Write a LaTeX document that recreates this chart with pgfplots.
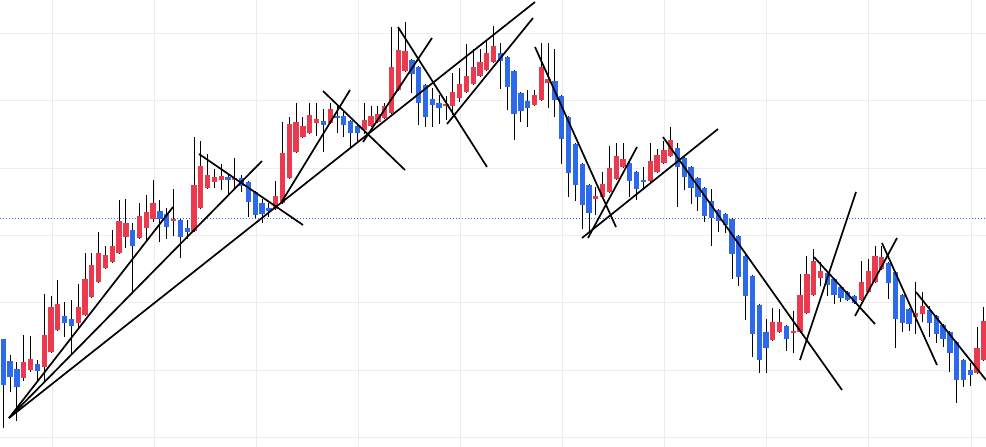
\documentclass[border=0pt]{standalone}
\usepackage{pgfplots}
\usepackage{pgfplotstable}
\pgfplotsset{compat=1.18}
\definecolor{cup}{RGB}{235,58,78}
\definecolor{cdn}{RGB}{45,106,235}
\definecolor{gridc}{RGB}{236,236,236}

\pgfplotstableread{
i bt bb h l
3 362 378 335 381
4 359 370 336 372
6 335 367 294 383
7 307 352 296 353
8 304 330 280 331
11 307 323 284 328
12 279 315 253 316
13 265 297 253 298
14 253 282 232 283
15 255 268 246 269
16 246 262 230 263
17 221 253 200 254
18 223 237 199 248
20 216 238 203 239
21 212 228 195 242
22 203 219 180 222
25 218.5 220.5 189 236
28 185 231 137 232
29 166 208 141 209
30 175 188 154 189
31 177 182 169 188
32 176 180 164 190
34 177.5 179.5 158 188
40 196 209 181 210
41 153 203 122 204
42 124 178 117 179
43 122 152 103 153
44 126 137 117 138
45 115 133 103 134
46 119 123 103 136
48 109 123 103 124
53 120 130 103 134
54 116 126 106 127
55 114 122 106 123
56 106 118 103 119
57 67 113 27 114
58 50 90 27 91
59 51 71 22 72
65 104 106 96 120
66 92 106 73 115
67 84 98 68 102
68 76 92 44 93
69 67 84 49 85
70 62 76 49 77
71 53 70 40 71
72 46 62 26 63
78 95 105 90 106
79 67 100 43 101
80 79 83 43 108
87 196 199 187 215
88 184 197 172 198
89 168 192 146 193
90 156 179 143 180
91 159 167 143 168
95 161 181 143 182
96 155 172 149 173
97 150 163 141 164
98 140 156 127 157
113 322 340 308 341
114 322 332 309 333
116 331 333 311 353
117 295 332 274 333
118 274 313 256 314
119 261 295 249 296
120 271 278 262 286
126 282 300 261 301
127 271 292 259 293
128 256 282 246 283
129 257 269 246 270
134 313 317 282 334
135 306 314 292 322
143 348 373 327 374
144 321 360 307 361
}\up

\pgfplotstableread{
i bt bb h l
0 339 385 339 428
1 361 377 355 392
2 369 387 362 421
5 364 371 360 382
9 316 323 302 337
10 319 326 300 354
19 230 246 223 292
23 211 219 200 242
24 214 227 208 239
26 220 237 219 258
27 228 232 220 239
33 177 180 175 195
35 178 186 175 192
36 182 202 181 217
37 192 215 191 218
38 203 214 199 223
39 208 211 203 217
47 121 125 109 152
49 115.5 117.5 105 133
50 116 125 110 137
51 121 133 120 147
52 126 133 123 141
60 60 74 59 93
61 67 103 66 125
62 85 117 84 127
63 99 105 88 127
64 103 108 95 124
73 53 61 43 89
74 57 87 56 110
75 71 114 70 140
76 93 111 92 122
77 101 108 90 127
81 81 100 49 117
82 96 139 95 164
83 117 173 116 197
84 144 185 143 201
85 164 205 163 229
86 185 213 184 233
92 163 181 162 197
93 172 189 171 200
94 180 182 167 190
99 148 167 143 207
100 158 177 157 190
101 167 188 166 204
102 178 197 177 211
103 188 216 187 222
104 201 218 189 246
105 210 221 209 232
106 214 225 213 233
107 219 254 218 279
108 236 277 235 286
109 256 296 255 320
110 276 334 275 357
111 305 360 304 373
112 332 348 319 373
115 326 339 325 351
121 273 285 272 296
122 279 295 278 304
123 287 298 286 302
124 292 300 291 301
125 296 303 295 304
130 263 283 262 299
131 272 319 271 348
132 295 323 294 332
133 309 324 308 331
136 310 323 306 337
137 316 334 315 343
138 325 339 324 347
139 332 353 331 372
140 342 380 341 403
141 360 380 359 387
142 370 375 363 386
}\down

\begin{document}
\begin{tikzpicture}
\begin{axis}[
  scale only axis, width=986pt, height=447pt,
  xmin=0, xmax=986, ymin=0, ymax=447, y dir=reverse,
  axis line style={draw=none}, major tick length=0pt,
  xtick={52,154.1,256.2,358.3,460.4,562.5,664.6,766.7,868.8,970.9},
  ytick={33.3,100.7,168,235.3,302.6,370,437.4},
  xticklabel={\mbox{}}, yticklabel={\mbox{}},
  ticklabel style={inner sep=0pt, outer sep=0pt},
  grid=major, major grid style={gridc, line width=0.8pt},
  clip=true,
]
\coordinate (SW) at (rel axis cs:0,0);
\coordinate (NE) at (rel axis cs:1,1);
% dotted price line
\addplot[cdn, line width=0.9pt, dash pattern=on 1pt off 2pt, forget plot] coordinates {(0,218) (986,218)};
% wicks
\addplot[draw=none, mark=none, forget plot,
  error bars/.cd, y dir=both, y explicit, error mark=none,
  error bar style={draw=black, line width=0.9pt, solid}]
  table[x expr=3.3+6.81*\thisrow{i}, y expr=(\thisrow{h}+\thisrow{l})/2, y error expr=(\thisrow{l}-\thisrow{h})/2] {\up};
\addplot[draw=none, mark=none, forget plot,
  error bars/.cd, y dir=both, y explicit, error mark=none,
  error bar style={draw=black, line width=0.9pt, solid}]
  table[x expr=3.3+6.81*\thisrow{i}, y expr=(\thisrow{h}+\thisrow{l})/2, y error expr=(\thisrow{l}-\thisrow{h})/2] {\down};
% bodies
\addplot[draw=none, mark=none, forget plot,
  error bars/.cd, y dir=both, y explicit, error mark=none,
  error bar style={draw=cup, line width=5.3pt, solid}]
  table[x expr=3.3+6.81*\thisrow{i}, y expr=(\thisrow{bt}+\thisrow{bb})/2, y error expr=(\thisrow{bb}-\thisrow{bt})/2] {\up};
\addplot[draw=none, mark=none, forget plot,
  error bars/.cd, y dir=both, y explicit, error mark=none,
  error bar style={draw=cdn, line width=5.3pt, solid}]
  table[x expr=3.3+6.81*\thisrow{i}, y expr=(\thisrow{bt}+\thisrow{bb})/2, y error expr=(\thisrow{bb}-\thisrow{bt})/2] {\down};
% trend lines
\pgfplotsset{tl/.style={black, line width=1.7pt}}
\addplot[tl] coordinates {(9,418) (173,207)};
\addplot[tl] coordinates {(9,418) (262,161)};
\addplot[tl] coordinates {(9,418) (535,2)};
\addplot[tl] coordinates {(199,154) (303,225)};
\addplot[tl] coordinates {(281,203) (350,90)};
\addplot[tl] coordinates {(323,91) (405,170)};
\addplot[tl] coordinates {(363,142) (432,38)};
\addplot[tl] coordinates {(398,27) (487,167)};
\addplot[tl] coordinates {(447,124) (533,18)};
\addplot[tl] coordinates {(535,47) (616,227)};
\addplot[tl] coordinates {(582,238) (718,129)};
\addplot[tl] coordinates {(588,238) (637,147)};
\addplot[tl] coordinates {(663,137) (842,390)};
\addplot[tl] coordinates {(800,360) (856,192)};
\addplot[tl] coordinates {(814,257) (875,324)};
\addplot[tl] coordinates {(855,316) (897,238)};
\addplot[tl] coordinates {(882,243) (937,365)};
\addplot[tl] coordinates {(916,292) (986,380)};
\end{axis}
\pgfresetboundingbox
\useasboundingbox (SW) rectangle (NE);
\end{tikzpicture}
\end{document}
